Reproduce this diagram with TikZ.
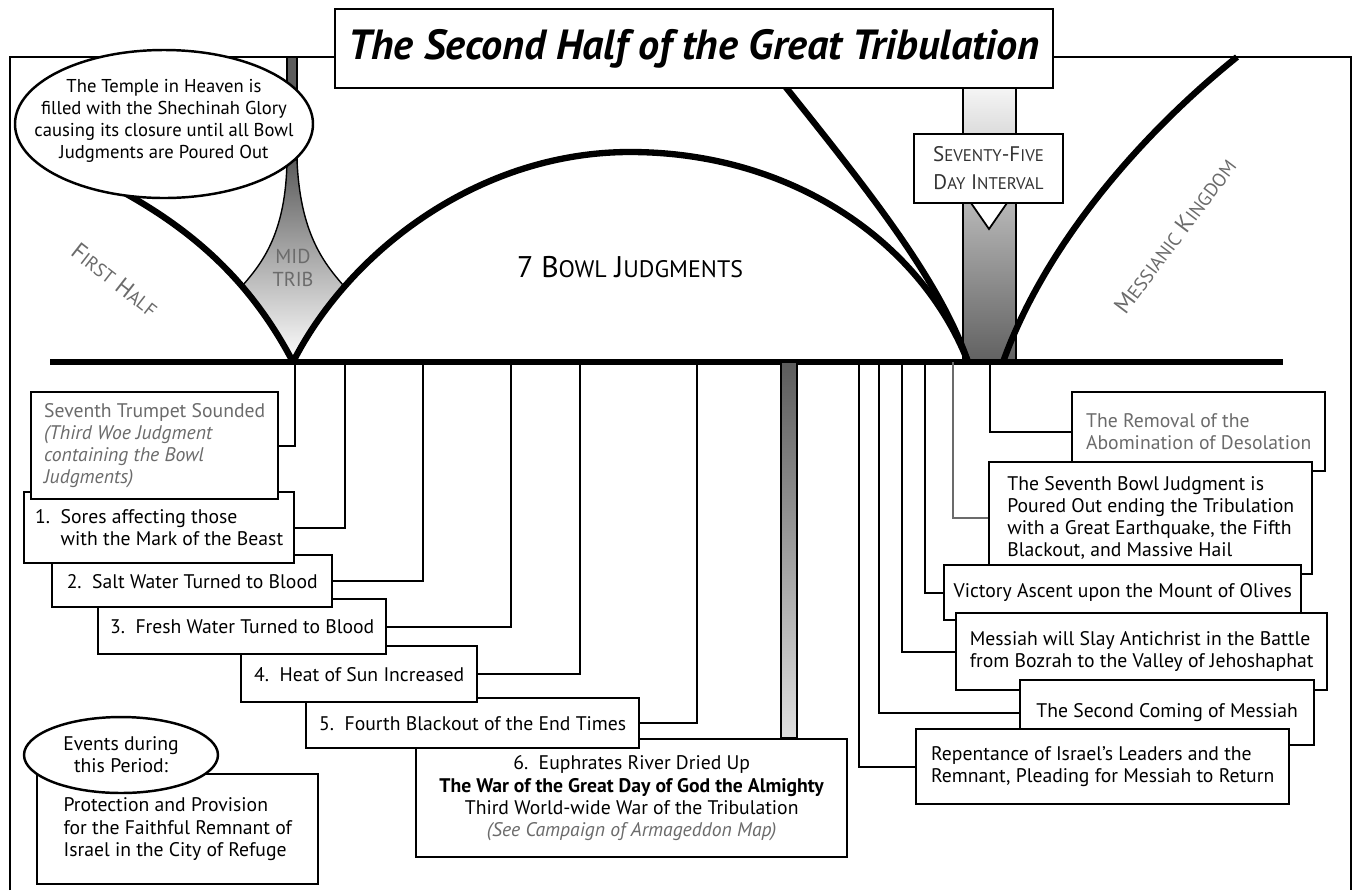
\documentclass[tikz,border=0pt]{standalone}
\usepackage{fontspec}
\setmainfont{PT Sans}
\usepackage{graphicx}
\usepackage{xcolor}
\usetikzlibrary{shapes.geometric,positioning}
\definecolor{softgray}{gray}{0.42}
\definecolor{bardark}{gray}{0.36}
\tikzstyle{bowl} = [line width=3.6pt]
\tikzstyle{link} = [line width=1pt]
\tikzstyle{evbox} = [draw, line width=1.4pt, fill=white, anchor=north west, align=left, inner sep=0pt]
\tikzstyle{tag} = [text=softgray, align=center, font=\fontsize{11.5}{13.5}\selectfont]
\newcommand\lowcap{\scalebox{0.8}}

\begin{document}
\begin{tikzpicture}[x=0.02cm, y=-0.02cm, font=\fontsize{11.2}{12.6}\selectfont]
		\useasboundingbox (0,0) rectangle (1355,890);
		\coordinate (midtrib) at (293,362);
		\coordinate (lastday) at (968,362);
		\coordinate (kingdom) at (1003,362);
		% ticks on the time line
		\coordinate (t0) at (295,362);
		\coordinate (t1) at (345,362);
		\coordinate (t2) at (423,362);
		\coordinate (t3) at (511,362);
		\coordinate (t4) at (580,362);
		\coordinate (t5) at (697,362);
		\coordinate (r1) at (859,362);
		\coordinate (r2) at (879,362);
		\coordinate (r3) at (902,362);
		\coordinate (r4) at (925,362);
		\coordinate (r5) at (953,362);
		\coordinate (r6) at (990,362);
		% Frame
		\draw[line width=1pt] (10,890) -- (10,57) -- (1351,57) -- (1351,890);
		% Mid-Trib bar
		\draw[line width=0.8pt, fill=bardark] (287,57) rectangle (297,165);
		\draw[line width=0.8pt, top color=bardark, bottom color=white] (287,160) .. controls (286,232) and (263,262) .. (243,285) -- (midtrib) -- (343,285) .. controls (323,262) and (300,232) .. (297,160) -- cycle;
		% Seventy-five day bar
		\draw[line width=0.8pt, top color=gray!8, bottom color=black!62] (963,88) rectangle (1016,362);
		% curves
		\draw[bowl] (midtrib) .. controls (250,280) and (190,225) .. (100,180);
		\draw[bowl] (midtrib) .. controls (350,250) and (480,152) .. (630,152) .. controls (790,152) and (920,240) .. (lastday);
		\draw[bowl] (780,80) .. controls (868,190) and (940,280) .. (lastday);
		\draw[bowl] (kingdom) .. controls (1045,245) and (1140,135) .. (1237,57);
		\draw[line width=3.8pt] (50,362) -- (1283,362);
		% Temple
		\draw[line width=1.4pt, fill=white] (164,124) ellipse [x radius=149, y radius=74];
		\node[align=center, font=\fontsize{10.6}{12.4}\selectfont] (temple) at (164,121) {The Temple in Heaven is\\filled with the Shechinah Glory\\causing its closure until all Bowl\\Judgments are Poured Out};
		% Title
		\node[draw, line width=1.6pt, fill=white, minimum width=14.36cm, minimum height=1.58cm, font=\fontsize{24}{28}\selectfont\bfseries\itshape] (title) at (694,48.5) {The Second Half of the Great Tribulation};
		% Interval
		\draw[line width=1pt, fill=white] (971,203) -- (989,229) -- (1007,203) -- cycle;
		\node[draw, line width=1.2pt, fill=white, minimum width=2.98cm, minimum height=1.38cm, align=center, text=black!80, font=\fontsize{12}{16}\selectfont] (interval) at (988.5,168.5) {S\lowcap{EVENTY}-F\lowcap{IVE}\\D\lowcap{AY} I\lowcap{NTERVAL}};
		% Labels
		\node[tag] (midlabel) at (293,268) {MID\\TRIB};
		\node[tag, rotate=-38, font=\fontsize{13.5}{16}\selectfont] (firsthalf) at (115,280) {F\lowcap{IRST} H\lowcap{ALF}};
		\node[tag, rotate=53, font=\fontsize{13.5}{16}\selectfont] (messianic) at (1175,236) {M\lowcap{ESSIANIC} K\lowcap{INGDOM}};
		\node[font=\fontsize{17}{20}\selectfont] (bowls) at (630,267) {7 B\lowcap{OWL} J\lowcap{UDGMENTS}};
		% Bowl judgments
		\draw[line width=0.8pt, top color=bardark, bottom color=gray!25] (781,362) rectangle (797,738);
		\node[evbox, align=center, minimum width=8.62cm, minimum height=2.36cm] (bowl6) at (415,738) {6.\ \ Euphrates River Dried Up\\\textbf{The War of the Great Day of God the Almighty}\\Third World-wide War of the Tribulation\\\textcolor{softgray}{\textit{(See Campaign of Armageddon Map)}}};
		\node[evbox, minimum width=6.66cm, minimum height=1cm] (bowl5) at (305,697) {5.\ \ Fourth Blackout of the End Times};
		\node[evbox, minimum width=4.72cm, minimum height=1.12cm] (bowl4) at (240,645) {4.\ \ Heat of Sun Increased};
		\node[evbox, minimum width=5.76cm, minimum height=1.1cm] (bowl3) at (97,598) {3.\ \ Fresh Water Turned to Blood};
		\node[evbox, minimum width=5.6cm, minimum height=1.04cm] (bowl2) at (51,554) {2.\ \ Salt Water Turned to Blood};
		\node[evbox, minimum width=5.4cm, minimum height=1.42cm] (bowl1) at (23,491) {1.\ \ Sores affecting those\\\phantom{1.\ \ }with the Mark of the Beast};
		\node[evbox, minimum width=4.94cm, minimum height=2.14cm, text=softgray] (trumpet) at (30,391) {Seventh Trumpet Sounded\\\textit{(Third Woe Judgment}\\\textit{containing the Bowl}\\\textit{Judgments)}};
		% End of the tribulation
		\node[evbox, minimum width=5.06cm, minimum height=1.58cm, text=softgray] (removal) at (1071,391) {The Removal of the\\Abomination of Desolation};
		\node[evbox, minimum width=6.46cm, minimum height=2.24cm] (seventh) at (988,461) {The Seventh Bowl Judgment is\\Poured Out ending the Tribulation\\with a Great Earthquake, the Fifth\\Blackout, and Massive Hail};
		\node[evbox, minimum width=7.14cm, minimum height=1.1cm] (victory) at (943,564) {Victory Ascent upon the Mount of Olives};
		\node[evbox, minimum width=7.42cm, minimum height=1.54cm] (slay) at (955,612) {Messiah will Slay Antichrist in the Battle\\from Bozrah to the Valley of Jehoshaphat};
		\node[evbox, minimum width=5.88cm, minimum height=1.3cm] (coming) at (1019,679) {The Second Coming of Messiah};
		\node[evbox, minimum width=7.46cm, minimum height=1.5cm] (repent) at (915,728) {Repentance of Israel's Leaders and the\\Remnant, Pleading for Messiah to Return};
		% Links
		\draw[link] (t0) |- (trumpet.east);
		\draw[link] (t1) |- (bowl1.east);
		\draw[link] (t2) |- (bowl2.east);
		\draw[link] (t3) |- (bowl3.east);
		\draw[link] (t4) |- (bowl4.east);
		\draw[link] (t5) |- (bowl5.east);
		\draw[link] (r1) |- (repent.west);
		\draw[link] (r2) |- (coming.west);
		\draw[link] (r3) |- (slay.west);
		\draw[link] (r4) |- (victory.west);
		\draw[link, softgray] (r5) |- (seventh.west);
		\draw[link] (r6) |- (removal.west);
		% Events
		\node[evbox, minimum width=5.62cm, minimum height=2.2cm] (refuge) at (36,773) {Protection and Provision\\for the Faithful Remnant of\\Israel in the City of Refuge};
		\node[ellipse, draw, line width=1.4pt, fill=white, minimum width=3.88cm, minimum height=1.52cm, align=center, inner sep=0pt] (events) at (121,755) {Events during\\this Period:};
\end{tikzpicture}
\end{document}
